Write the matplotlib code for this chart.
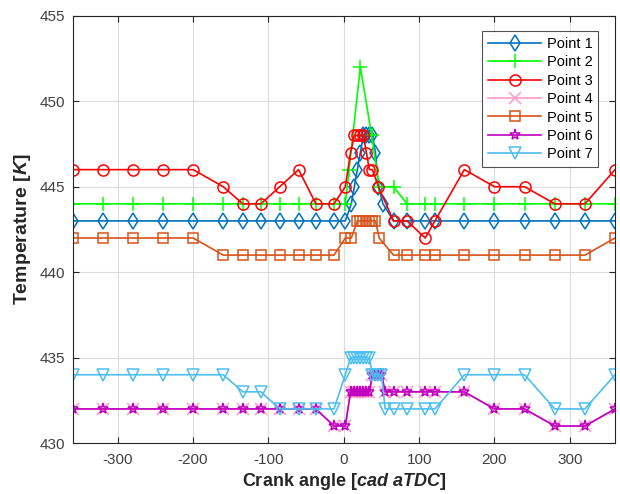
import matplotlib
matplotlib.use("Agg")
import matplotlib.pyplot as plt

plt.rcParams['font.family'] = ['Liberation Sans', 'DejaVu Sans']
plt.rcParams['mathtext.fontset'] = 'custom'
plt.rcParams['mathtext.rm'] = 'Liberation Sans:bold'
plt.rcParams['mathtext.it'] = 'Liberation Sans:italic:bold'
plt.rcParams['mathtext.bf'] = 'Liberation Sans:bold'
plt.rcParams['axes.unicode_minus'] = False

# ---- data ----
left_angles = [-360, -320, -280, -240, -200, -160, -134, -110, -85, -60, -37, -13]
right_angles = [66, 84, 108, 121, 160, 200, 240, 280, 320, 360]

p1_mid_angles = [2, 10, 14, 18, 22, 26, 30, 34, 38, 42, 46, 52]
p1_left = [443] * 12
p1_mid = [443, 444, 445, 446, 447, 448, 448, 448, 448, 447, 445, 444]
p1_right = [443] * 10

p2_mid_angles = [2, 7, 22, 37, 47]
p2_left = [444] * 12
p2_mid = [444, 446, 452, 448, 445]
p2_right = [445, 444, 444, 444, 444, 444, 444, 444, 444, 444]

p3_mid_angles = [2, 9, 14, 18, 22, 26, 30, 34, 38, 46]
p3_left = [446, 446, 446, 446, 446, 445, 444, 444, 445, 446, 444, 444]
p3_mid = [445, 447, 448, 448, 448, 448, 447, 446, 446, 445]
p3_right = [443, 443, 442, 443, 446, 445, 445, 444, 444, 446]

p5_mid_angles = [2, 10, 18, 22, 26, 30, 34, 38, 42, 47]
p5_left = [442, 442, 442, 442, 442, 441, 441, 441, 441, 441, 441, 441]
p5_mid = [442, 442, 443, 443, 443, 443, 443, 443, 443, 442]
p5_right = [441, 441, 441, 441, 441, 441, 441, 441, 441, 442]

p6_mid_angles = [2, 9, 14, 18, 22, 26, 30, 34, 38, 42, 46, 50, 55]
p6_left = [432, 432, 432, 432, 432, 432, 432, 432, 432, 432, 432, 431]
p6_mid = [431, 433, 433, 433, 433, 433, 433, 433, 434, 434, 434, 434, 433]
p6_right = [433, 433, 433, 433, 433, 432, 432, 431, 431, 432]

# Point 4 lies exactly beneath Point 6
p4_mid_angles = p6_mid_angles
p4_left = p6_left
p4_mid = p6_mid
p4_right = p6_right

p7_mid_angles = [2, 9, 14, 18, 22, 26, 30, 34, 38, 42, 46, 50, 55]
p7_left = [434, 434, 434, 434, 434, 434, 433, 433, 432, 432, 432, 432]
p7_mid = [434, 435, 435, 435, 435, 435, 435, 435, 434, 434, 434, 434, 432]
p7_right = [432, 432, 432, 432, 434, 434, 434, 432, 432, 434]

labels = ["Point 1", "Point 2", "Point 3", "Point 4", "Point 5", "Point 6", "Point 7"]
colors = ["#0072BD", "#00FF00", "#FF0000", "#FF99CC", "#D95319", "#C000C0", "#4DBEEE"]
markers = ["d", "+", "o", "x", "s", "*", "v"]
msizes = [8, 10, 8, 8, 7, 8, 8]

series = [
    (p1_mid_angles, p1_left, p1_mid, p1_right),
    (p2_mid_angles, p2_left, p2_mid, p2_right),
    (p3_mid_angles, p3_left, p3_mid, p3_right),
    (p4_mid_angles, p4_left, p4_mid, p4_right),
    (p5_mid_angles, p5_left, p5_mid, p5_right),
    (p6_mid_angles, p6_left, p6_mid, p6_right),
    (p7_mid_angles, p7_left, p7_mid, p7_right),
]

fig = plt.figure(figsize=(6.2, 4.94), dpi=100)
ax = fig.add_axes([0.117, 0.103, 0.875, 0.865])

for (mid_a, lv, mv, rv), lab, c, m, ms in zip(series, labels, colors, markers, msizes):
    xs = left_angles + mid_a + right_angles
    ys = lv + mv + rv
    ax.plot(xs, ys, color=c, marker=m, markersize=ms, markerfacecolor='none',
            markeredgecolor=c, markeredgewidth=1.1, linewidth=1.2, label=lab)

ax.set_xlim(-360, 360)
ax.set_ylim(430, 455)
ax.set_xticks([-300, -200, -100, 0, 100, 200, 300])
ax.set_yticks([430, 435, 440, 445, 450, 455])
ax.grid(True, color='#dcdcdc', linewidth=0.8)
ax.set_axisbelow(True)
ax.tick_params(direction='in', top=True, right=True, labelsize=11,
               colors='#262626', labelcolor='#404040', length=4)
ax.tick_params(axis='x', pad=7)
ax.tick_params(axis='y', pad=5)
for s in ax.spines.values():
    s.set_color('#262626')
    s.set_linewidth(0.8)

ax.set_xlabel("Crank angle [$cad\\ aTDC$]", fontsize=13, fontweight='bold', color='#262626', labelpad=3)
ax.set_ylabel("Temperature [$K$]", fontsize=14, fontweight='bold', color='#262626', labelpad=5)

leg = ax.legend(loc='upper right', bbox_to_anchor=(0.969, 0.964), fontsize=10.5,
                handlelength=3.6, frameon=True, fancybox=False, borderpad=0.4,
                labelspacing=0.3, handletextpad=0.4, borderaxespad=0)
leg.get_frame().set_edgecolor('#262626')
leg.get_frame().set_linewidth(0.8)

fig.savefig("out.png", dpi=100)
